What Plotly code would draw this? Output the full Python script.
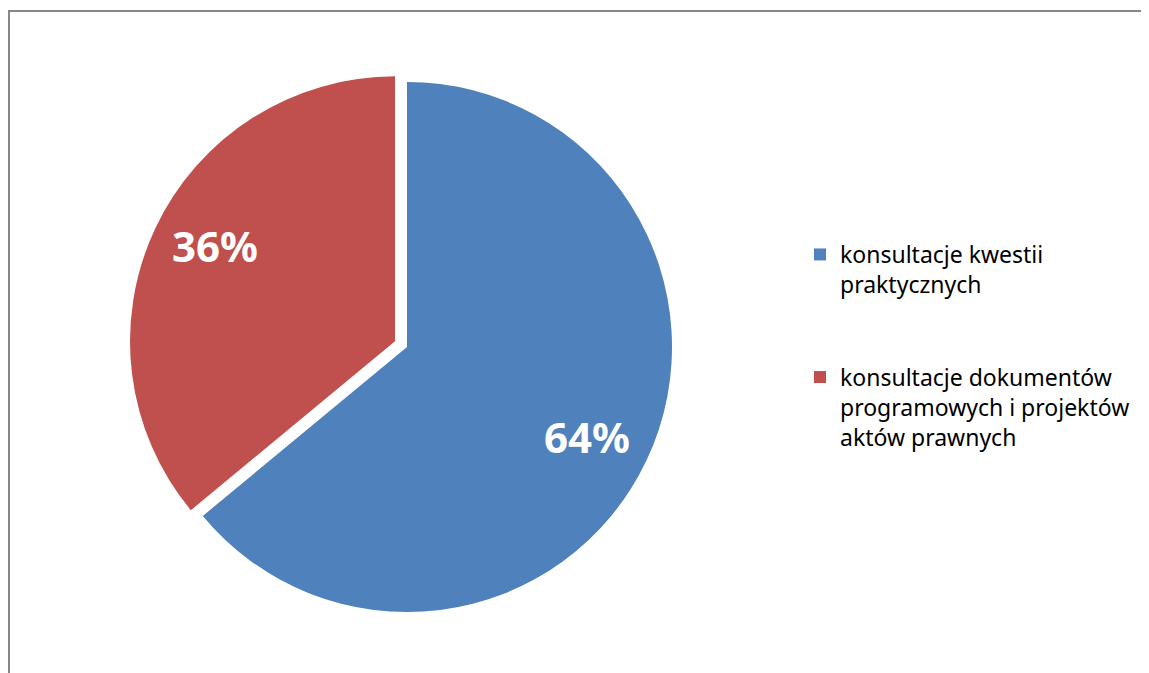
import math
import plotly.graph_objects as go

W, H = 1149, 673

labels = ["konsultacje kwestii<br>praktycznych<br> <br> ",
          "konsultacje dokumentów<br>programowych i projektów<br>aktów prawnych"]
values = [64, 36]
colors = ["#4F81BD", "#C0504D"]
pulls = [0, 0.05]

# pie geometry in paper pixels
cx, cy, r = 399, 339, 265
half = r * (1 + max(pulls))
label_radius = 0.765
label_turn = math.radians(2)

fig = go.Figure(go.Pie(
    labels=labels,
    values=values,
    sort=False,
    direction="clockwise",
    rotation=0,
    pull=pulls,
    marker=dict(colors=colors, line=dict(width=0)),
    textinfo="none",
    domain=dict(x=[(cx - half) / W, (cx + half) / W],
                y=[1 - (cy + half) / H, 1 - (cy - half) / H]),
    hoverinfo="label+percent",
))

# percentage labels placed near each slice's bisector, derived from the values
total = sum(values)
annotations = []
cum = 0
for v, p in zip(values, pulls):
    mid = 2 * math.pi * (cum + v / 2) / total
    cum += v
    ox = cx + r * p * math.sin(mid)
    oy = cy - r * p * math.cos(mid)
    px = ox + r * label_radius * math.sin(mid + label_turn)
    py = oy - r * label_radius * math.cos(mid + label_turn)
    annotations.append(dict(
        x=px / W, y=1 - py / H, xref="paper", yref="paper",
        text=f"{round(100 * v / total)}%", showarrow=False,
        xanchor="center", yanchor="middle", yshift=3,
        font=dict(family="Noto Sans", size=42, color="white", weight="bold"),
    ))

fig.update_layout(
    width=W, height=H,
    margin=dict(l=0, r=0, t=0, b=0),
    paper_bgcolor="white",
    showlegend=True,
    legend=dict(
        x=792 / W, y=1 - 225 / H, xanchor="left", yanchor="top",
        valign="top",
        font=dict(family="Noto Sans", size=23, color="black"),
        itemwidth=30,
    ),
    annotations=annotations,
    shapes=[dict(type="rect", xref="paper", yref="paper",
                 x0=1 / W, x1=1.05, y0=-0.05, y1=1 - 3 / H,
                 line=dict(color="#878787", width=2))],
)

fig.write_html("out.html")
